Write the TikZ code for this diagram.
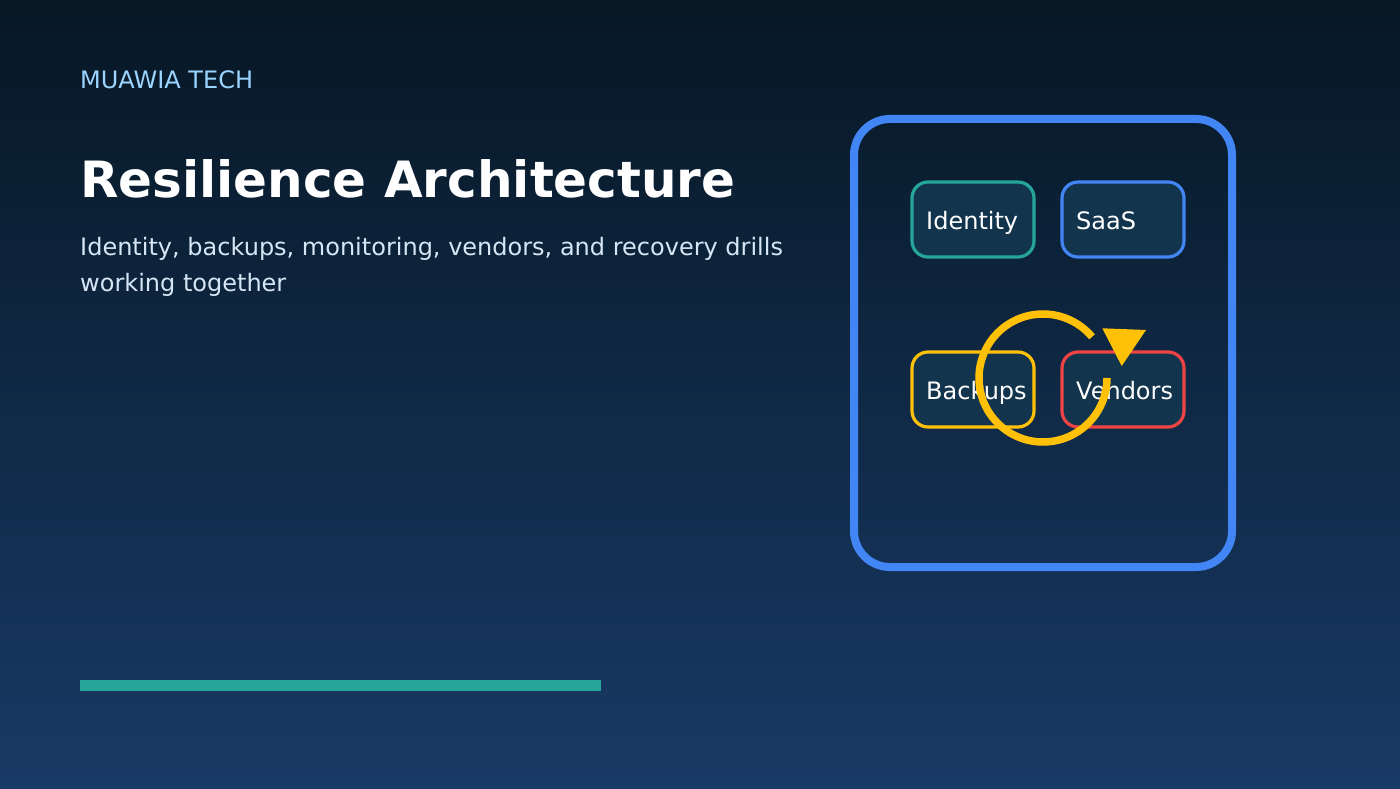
\documentclass[tikz,border=0pt]{standalone}
\usepackage{fontspec}
\setmainfont{DejaVu Sans}
\definecolor{bgtop}{HTML}{071724}
\definecolor{bgbot}{HTML}{183A66}
\definecolor{teal}{HTML}{26A69A}
\definecolor{blueline}{HTML}{4285F4}
\definecolor{amber}{HTML}{FFC107}
\definecolor{redline}{HTML}{EF4444}
\definecolor{boxfill}{HTML}{12344D}
\definecolor{kicker}{HTML}{9AD4FF}
\definecolor{subtext}{HTML}{D6E6F5}
\tikzset{
  tile/.style={draw=#1,line width=3.2pt,fill=boxfill,rounded corners=16pt,minimum width=122pt,minimum height=75pt,inner sep=0pt,outer sep=0pt,anchor=center},
  tiletext/.style={text=white,font=\fontsize{24}{24}\selectfont,anchor=base west,inner sep=0pt},
  ring/.style={draw=amber,line width=7.5pt}
}
\begin{document}
\begin{tikzpicture}[x=1pt,y=1pt]
\useasboundingbox (0,0) rectangle (1400,788);
\shade[top color=bgtop,bottom color=bgbot,shading angle=0] (0,0) rectangle (1400,788);
\node[anchor=base west,inner sep=0pt,text=kicker,font=\fontsize{24}{24}\selectfont] (brand) at (80,699) {MUAWIA TECH};
\node[anchor=base west,inner sep=0pt,text=white,font=\fontsize{50}{50}\bfseries\selectfont] (title) at (80,590) {Resilience Architecture};
\node[anchor=base west,inner sep=0pt,text=subtext,font=\fontsize{24}{24}\selectfont] (sub1) at (80,532) {Identity, backups, monitoring, vendors, and recovery drills};
\node[anchor=base west,inner sep=0pt,text=subtext,font=\fontsize{24}{24}\selectfont] (sub2) at (80,496) {working together};
\node[fill=teal,minimum width=521pt,minimum height=11pt,inner sep=0pt,outer sep=0pt,anchor=south west] (bar) at (80,97) {};
\node[draw=blueline,line width=8pt,rounded corners=36pt,minimum width=378pt,minimum height=448pt,inner sep=0pt,outer sep=0pt] (frame) at (1043,445) {};
\node[tile=teal] (identity) at (973,568.5) {};
\node[tile=blueline] (saas) at (1123,568.5) {};
\node[tile=amber] (backups) at (973,398.5) {};
\node[tile=redline] (vendors) at (1123,398.5) {};
\node[tiletext] (tidentity) at (926,558) {Identity};
\node[tiletext] (tsaas) at (1076,558) {SaaS};
\node[tiletext] (tbackups) at (926,388) {Backups};
\node[tiletext] (tvendors) at (1076,388) {Vendors};
\coordinate (ringcentre) at (1043,410);
\draw[ring] (ringcentre) ++(0:64) arc[start angle=0,end angle=-320,radius=64];
\fill[amber] (1102.3,459.7) -- (1146,458) -- (1121.7,422) -- cycle;
\end{tikzpicture}
\end{document}
